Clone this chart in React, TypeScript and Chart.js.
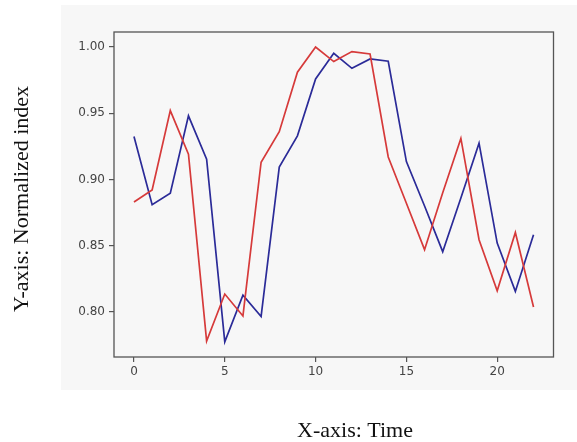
import React, { useEffect, useRef } from "react";
import { Chart, registerables } from "chart.js";

Chart.register(...registerables);

const timeSteps = [0,1,2,3,4,5,6,7,8,9,10,11,12,13,14,15,16,17,18,19,20,21,22];
const redSeries = [0.883,0.892,0.952,0.919,0.778,0.8135,0.797,0.913,0.936,0.981,1.0,0.989,0.9965,0.9947,0.917,0.882,0.847,0.890,0.931,0.8545,0.816,0.860,0.8037];
const blueSeries = [0.9324,0.881,0.8897,0.948,0.9153,0.7775,0.8127,0.7966,0.9093,0.9329,0.9759,0.9952,0.9839,0.991,0.9892,0.9135,0.880,0.8455,0.886,0.9274,0.852,0.8155,0.8582];
const xTicks = [0, 5, 10, 15, 20];
const yTicks = [0.8, 0.85, 0.9, 0.95, 1.0];
const xLabel = "X-axis: Time";
const yLabel = "Y-axis: Normalized index";

const W = 577;
const H = 442;

const framePlugin = {
  id: "frame",
  beforeDraw(chart: any) {
    const { ctx } = chart;
    ctx.save();
    ctx.fillStyle = "#ffffff";
    ctx.fillRect(0, 0, W, H);
    ctx.fillStyle = "#f7f7f7";
    ctx.fillRect(61, 5, W - 61, 385);
    ctx.restore();
  },
  afterDraw(chart: any) {
    const { ctx, chartArea } = chart;
    ctx.save();
    ctx.strokeStyle = "#555555";
    ctx.lineWidth = 1.3;
    ctx.strokeRect(chartArea.left, chartArea.top, chartArea.right - chartArea.left, chartArea.bottom - chartArea.top);
    ctx.fillStyle = "#111111";
    ctx.font = '22px "Liberation Serif", "Times New Roman", serif';
    ctx.textAlign = "center";
    ctx.textBaseline = "middle";
    ctx.fillText(xLabel, 355, 431);
    ctx.translate(22, 199);
    ctx.rotate(-Math.PI / 2);
    ctx.fillText(yLabel, 0, 0);
    ctx.restore();
  },
};

export default function App() {
  const ref = useRef<HTMLCanvasElement | null>(null);
  useEffect(() => {
    if (!ref.current) return;
    const tickFont = { family: '"DejaVu Sans", sans-serif', size: 12 };
    const chart = new Chart(ref.current, {
      type: "line",
      data: {
        datasets: [
          {
            data: timeSteps.map((t, i) => ({ x: t, y: redSeries[i] })),
            borderColor: "#d63a3a",
            borderWidth: 1.7,
            pointRadius: 0,
            tension: 0,
          },
          {
            data: timeSteps.map((t, i) => ({ x: t, y: blueSeries[i] })),
            borderColor: "#2b2b98",
            borderWidth: 1.7,
            pointRadius: 0,
            tension: 0,
          },
        ],
      },
      options: {
        animation: false,
        responsive: false,
        devicePixelRatio: 1,
        layout: { padding: { top: 32, right: 23.5, bottom: 0, left: 0 } },
        plugins: { legend: { display: false }, tooltip: { enabled: false } },
        scales: {
          x: {
            type: "linear",
            min: -1.1,
            max: 23.1,
            afterFit: (s: any) => { s.height = 85; },
            afterBuildTicks: (s: any) => { s.ticks = xTicks.map((v) => ({ value: v })); },
            ticks: {
              includeBounds: false,
              color: "#444444",
              font: tickFont,
              padding: 3,
              maxRotation: 0,
              callback: (v: any) => String(v),
            },
            grid: { drawOnChartArea: false, drawTicks: true, tickLength: 5, tickColor: "#555555", lineWidth: 1.2 },
            border: { display: false },
          },
          y: {
            type: "linear",
            min: 0.766,
            max: 1.0113,
            afterFit: (s: any) => { s.width = 114; },
            afterBuildTicks: (s: any) => { s.ticks = yTicks.map((v) => ({ value: v })); },
            ticks: {
              includeBounds: false,
              color: "#444444",
              font: tickFont,
              padding: 4,
              callback: (v: any) => Number(v).toFixed(2),
            },
            grid: { drawOnChartArea: false, drawTicks: true, tickLength: 5, tickColor: "#555555", lineWidth: 1.2 },
            border: { display: false },
          },
        },
      },
      plugins: [framePlugin],
    });
    return () => chart.destroy();
  }, []);
  return (
    <div style={{ position: "absolute", left: 0, top: 0, width: W, height: H }}>
      <canvas ref={ref} width={W} height={H} style={{ width: W, height: H, display: "block" }} />
    </div>
  );
}
